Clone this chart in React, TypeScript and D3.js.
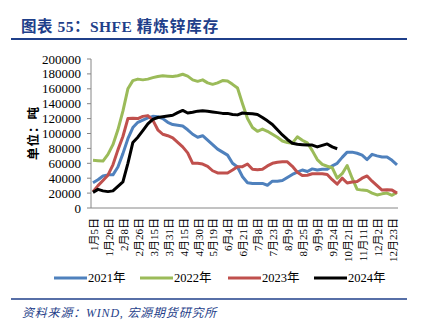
import React from "react";
import * as d3 from "d3";

const tickLabels = ["1月5日","1月20日","2月8日","2月26日","3月15日","3月31日","4月15日","4月30日","5月19日","6月4日","6月21日","7月8日","7月23日","8月9日","8月25日","9月9日","9月24日","10月21日","11月11日","12月2日","12月23日"];

const y2021 = [34000,38000,43000,44500,44500,55000,73000,93000,108000,115000,118000,121000,123000,122500,120000,115000,112000,111000,110000,105000,99000,95000,97000,91000,85000,79000,75000,71000,60000,55000,42000,34000,33000,33000,33000,30500,36000,36000,37000,41000,45000,48000,51000,49000,52500,51000,52000,52000,56500,60000,68000,75000,75000,73500,71000,65000,72000,70000,68500,68500,64000,58000];
const y2022 = [64000,63500,63000,72000,85000,105000,130000,160000,171000,173000,172000,173000,175000,176500,177500,177000,176500,177500,179500,177000,172000,170000,172000,168000,166000,168000,171000,170500,166000,161000,140000,120000,108000,103000,106000,103000,99000,95000,90000,88000,87000,95500,91000,87500,77000,65000,58500,56000,54000,40000,46000,57000,40000,25000,24000,23500,20000,17500,19000,20000,17000,21000];
const y2023 = [22000,30000,37000,44000,58000,78000,96000,120000,120500,120000,123000,124000,118000,105000,99000,97000,94000,88000,82000,74000,60000,60000,59000,56000,50000,47000,47000,47000,51000,55500,55500,59000,52000,51500,52000,56500,60000,61500,62000,62000,56000,48000,43500,44000,46000,46000,46000,45000,38000,32000,40000,33500,35000,35500,40000,43000,36000,30000,24000,24500,24000,20000];
const y2024 = [21000,25000,23000,22000,23000,29000,35000,60000,88000,95000,104000,113000,119000,121500,122500,123500,124500,128000,131000,127500,128500,130000,130500,130000,129000,128000,127000,127000,125500,125000,127500,127000,126500,125500,121500,117000,112000,105000,98000,92000,87000,85500,85000,84500,84500,82000,84000,86000,82000,79500];
const yTicks = [0,20000,40000,60000,80000,100000,120000,140000,160000,180000,200000];

const seriesNames = ["2021年","2022年","2023年","2024年"];
const seriesColors = ["#4F81BD","#9BBB59","#C0504D","#000000"];
const seriesData = [y2021, y2022, y2023, y2024];

const W = 421, H = 335;
const serif = "'Liberation Serif', 'Times New Roman', 'Noto Sans CJK SC', serif";
const cjk = "'Liberation Serif', 'Noto Sans CJK SC', serif";

export default function App() {
  const x = d3.scaleLinear().domain([0, 61]).range([93, 397]);
  const y = d3.scaleLinear().domain([0, 200000]).range([208, 59]);
  const line = d3.line<number>().x((_, i) => x(i)).y((d) => y(d));
  const axisColor = "#868686";
  const titleColor = "#1F3F8A";

  return (
    <svg width={W} height={H} style={{ position: "absolute", left: 0, top: 0, background: "#fff" }}>
      <text x={21} y={32} fill={titleColor} fontSize={15.5} fontWeight="bold" fontFamily={cjk}>
        <tspan letterSpacing={0.5}>图表 55：</tspan>
        <tspan letterSpacing={0.5}>SHFE </tspan>
        <tspan letterSpacing={1}>精炼锌库存</tspan>
      </text>
      <line x1={11} x2={407} y1={39} y2={39} stroke={titleColor} strokeWidth={2} />

      {/* y axis */}
      <line x1={91} x2={91} y1={y(200000)} y2={y(0)} stroke={axisColor} strokeWidth={1} />
      {yTicks.map((t) => (
        <g key={t}>
          <line x1={87} x2={91} y1={y(t)} y2={y(t)} stroke={axisColor} />
          <text x={81} y={y(t)} dy="0.35em" textAnchor="end" fontSize={13} fontFamily={serif} fill="#000">{t}</text>
        </g>
      ))}
      <text transform={`translate(34,133) rotate(-90)`} textAnchor="middle" dy="0.35em" fontSize={12.5} fontWeight="bold" letterSpacing={1} fontFamily={cjk} fill="#000">单位：吨</text>

      {/* x axis */}
      <line x1={91} x2={398} y1={y(0)} y2={y(0)} stroke={axisColor} strokeWidth={1} />
      {tickLabels.map((lab, k) => (
        <text key={lab} transform={`translate(${x(k * 3) + 1},218) rotate(-90)`} textAnchor="end" dy="0.35em" fontSize={11} fontFamily={cjk} fill="#000">{lab}</text>
      ))}

      {/* lines */}
      {seriesData.map((d, s) => (
        <path key={s} d={line(d) || ""} fill="none" stroke={seriesColors[s]} strokeWidth={3} strokeLinejoin="round" />
      ))}

      {/* legend */}
      {seriesNames.map((n, s) => {
        const lx = [54, 140, 228, 314][s];
        return (
          <g key={n}>
            <line x1={lx} x2={lx + 33} y1={278} y2={278} stroke={seriesColors[s]} strokeWidth={3} />
            <text x={lx + 34} y={278} dy="0.35em" fontSize={12.5} fontFamily={cjk} fill="#000">{n}</text>
          </g>
        );
      })}

      <line x1={11} x2={407} y1={299} y2={299} stroke={titleColor} strokeWidth={1.5} />
      <text x={22} y={317} fill={titleColor} fontSize={12} fontStyle="italic" letterSpacing={0.8} fontFamily={cjk}>资料来源：WIND, 宏源期货研究所</text>
    </svg>
  );
}
